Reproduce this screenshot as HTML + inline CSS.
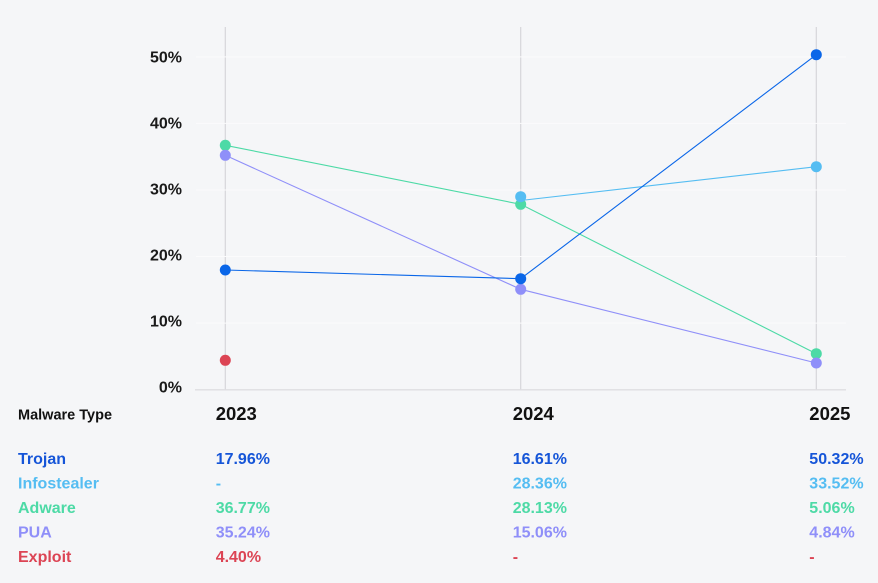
<!DOCTYPE html>
<html><head><meta charset="utf-8"><style>
html,body{margin:0;padding:0;background:#f5f6f8;}
svg{display:block;}
text{font-family:"Liberation Sans",sans-serif;font-weight:bold;}
</style></head><body>
<svg width="878" height="583" viewBox="0 0 878 583" xmlns="http://www.w3.org/2000/svg">
<rect width="878" height="583" fill="#f5f6f8"/>
<!-- vertical grid -->
<g stroke="#d6d6da" stroke-width="1.2">
<line x1="225.3" y1="27" x2="225.3" y2="390"/>
<line x1="520.7" y1="27" x2="520.7" y2="390"/>
<line x1="816.3" y1="27" x2="816.3" y2="390"/>
</g>
<!-- horizontal white grid -->
<g stroke="#fbfbfc" stroke-width="1">
<line x1="196" y1="56.9" x2="846" y2="56.9"/>
<line x1="196" y1="123.4" x2="846" y2="123.4"/>
<line x1="196" y1="190" x2="846" y2="190"/>
<line x1="196" y1="256.5" x2="846" y2="256.5"/>
<line x1="196" y1="323.1" x2="846" y2="323.1"/>
</g>
<line x1="195" y1="389.8" x2="846" y2="389.8" stroke="#dedee2" stroke-width="1.3"/>
<!-- y tick labels -->
<g font-size="16" fill="#1a1a1a" text-anchor="end">
<text x="182" y="62.3">50%</text>
<text x="182" y="128.4">40%</text>
<text x="182" y="194.5">30%</text>
<text x="182" y="260.5">20%</text>
<text x="182" y="326.6">10%</text>
<text x="182" y="392.7">0%</text>
</g>
<!-- series lines -->
<g fill="none" stroke-width="1.1">
<polyline points="225.3,145.3 520.7,204.3 816.3,353.7" stroke="#4ddaa6"/>
<polyline points="225.3,155.3 520.7,289.3 816.3,363" stroke="#8f8ff9"/>
<polyline points="520.7,200.5 816.3,166.7" stroke="#55bdf2"/>
<polyline points="225.3,270 520.7,278.7 816.3,54.7" stroke="#0a66e8"/>
</g>
<!-- dots -->
<g>
<circle cx="225.3" cy="145.3" r="5.5" fill="#4ddaa6"/>
<circle cx="520.7" cy="204.3" r="5.5" fill="#4ddaa6"/>
<circle cx="816.3" cy="353.7" r="5.5" fill="#4ddaa6"/>
<circle cx="225.3" cy="155.3" r="5.5" fill="#8f8ff9"/>
<circle cx="520.7" cy="289.3" r="5.5" fill="#8f8ff9"/>
<circle cx="816.3" cy="363" r="5.5" fill="#8f8ff9"/>
<circle cx="520.7" cy="196.7" r="5.5" fill="#55bdf2"/>
<circle cx="816.3" cy="166.7" r="5.5" fill="#55bdf2"/>
<circle cx="225.3" cy="270" r="5.5" fill="#0a66e8"/>
<circle cx="520.7" cy="278.7" r="5.5" fill="#0a66e8"/>
<circle cx="816.3" cy="54.7" r="5.5" fill="#0a66e8"/>
<circle cx="225.3" cy="360.3" r="5.5" fill="#dc4454"/>
</g>
<!-- table header -->
<text x="18" y="419.5" font-size="14.5" fill="#111">Malware Type</text>
<g font-size="18.5" fill="#111">
<text x="215.7" y="420">2023</text>
<text x="512.7" y="420">2024</text>
<text x="809.3" y="420">2025</text>
</g>
<!-- rows -->
<g font-size="16">
<g fill="#1555d8">
<text x="18" y="464">Trojan</text>
<text x="215.7" y="464">17.96%</text>
<text x="512.7" y="464">16.61%</text>
<text x="809.3" y="464">50.32%</text>
</g>
<g fill="#55bdf2">
<text x="18" y="488.5">Infostealer</text>
<text x="215.7" y="488.5">-</text>
<text x="512.7" y="488.5">28.36%</text>
<text x="809.3" y="488.5">33.52%</text>
</g>
<g fill="#4ddaa6">
<text x="18" y="513">Adware</text>
<text x="215.7" y="513">36.77%</text>
<text x="512.7" y="513">28.13%</text>
<text x="809.3" y="513">5.06%</text>
</g>
<g fill="#8f8ff9">
<text x="18" y="537.5">PUA</text>
<text x="215.7" y="537.5">35.24%</text>
<text x="512.7" y="537.5">15.06%</text>
<text x="809.3" y="537.5">4.84%</text>
</g>
<g fill="#dc4454">
<text x="18" y="562">Exploit</text>
<text x="215.7" y="562">4.40%</text>
<text x="512.7" y="562">-</text>
<text x="809.3" y="562">-</text>
</g>
</g>
</svg>
</body></html>
